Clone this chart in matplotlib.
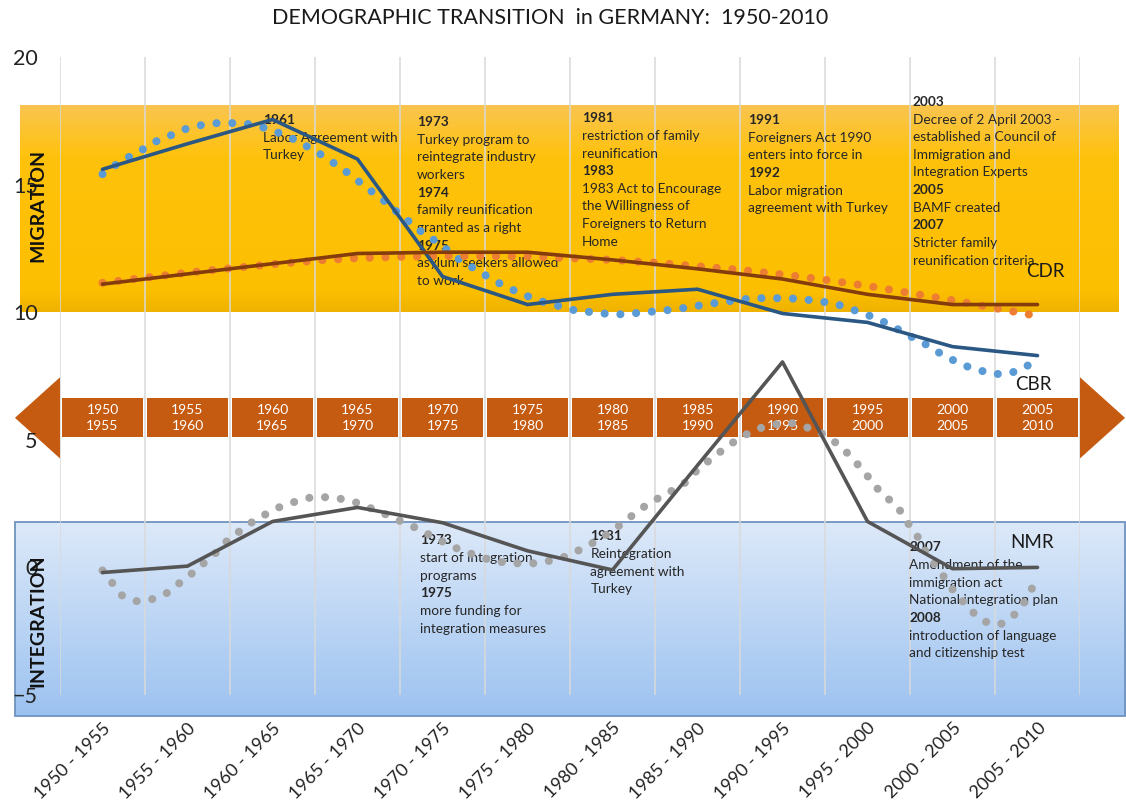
import numpy as np
import matplotlib
matplotlib.use("Agg")
import matplotlib.pyplot as plt
from matplotlib.patches import Rectangle, Polygon
from matplotlib.colors import LinearSegmentedColormap

plt.rcParams['font.family'] = ['Lato', 'DejaVu Sans']

# categories (5-year periods)
periods = ['1950 - 1955', '1955 - 1960', '1960 - 1965', '1965 - 1970',
           '1970 - 1975', '1975 - 1980', '1980 - 1985', '1985 - 1990',
           '1990 - 1995', '1995 - 2000', '2000 - 2005', '2005 - 2010']
band_from = ['1950', '1955', '1960', '1965', '1970', '1975',
             '1980', '1985', '1990', '1995', '2000', '2005']
band_to = ['1955', '1960', '1965', '1970', '1975', '1980',
           '1985', '1990', '1995', '2000', '2005', '2010']

# series
cbr = [15.6, 16.6, 17.55, 16.0, 11.4, 10.3, 10.7, 10.9, 9.95, 9.6, 8.65, 8.3]
cdr = [11.1, 11.5, 11.9, 12.3, 12.35, 12.35, 12.05, 11.7, 11.3, 10.7, 10.3, 10.3]
nmr = [-0.2, 0.05, 1.8, 2.35, 1.75, 0.65, -0.1, 4.0, 8.05, 1.8, -0.05, 0.0]

# dotted trendlines (positions in category units)
cbr_trend_x = [0.0, 0.15, 0.31, 0.48, 0.64, 0.81, 0.98, 1.16, 1.35, 1.54, 1.72, 1.91,
               2.08, 2.25, 2.42, 2.58, 2.74, 2.89, 3.04, 3.19, 3.35, 3.48, 3.63, 3.77,
               3.94, 4.09, 4.24, 4.41, 4.56, 4.71, 4.89, 5.06, 5.23, 5.42, 5.59, 5.78,
               5.97, 6.17, 6.36, 6.55, 6.74, 6.92, 7.10, 7.29, 7.46, 7.65, 7.85, 8.05,
               8.24, 8.42, 8.61, 8.77, 8.95, 9.12, 9.30, 9.45, 9.63, 9.79, 9.96, 10.13,
               10.31, 10.49, 10.68, 10.86, 11.0]
cbr_trend_y = [15.41, 15.76, 16.08, 16.39, 16.71, 16.94, 17.18, 17.33, 17.41, 17.41, 17.37, 17.22,
               17.02, 16.78, 16.47, 16.16, 15.80, 15.45, 15.06, 14.67, 14.27, 13.88, 13.49, 13.10,
               12.75, 12.35, 11.96, 11.65, 11.33, 11.06, 10.78, 10.55, 10.35, 10.20, 10.04, 10.00,
               9.92, 9.92, 10.00, 10.04, 10.12, 10.20, 10.31, 10.39, 10.47, 10.55, 10.55, 10.55,
               10.51, 10.43, 10.35, 10.16, 9.96, 9.73, 9.45, 9.14, 8.86, 8.51, 8.20, 7.92,
               7.73, 7.57, 7.61, 7.84, 8.24]
cdr_trend_x = [0, 0.5, 1, 1.5, 2, 2.5, 3, 3.5, 4, 4.5, 5, 5.5,
               6, 6.5, 7, 7.5, 8, 8.5, 9, 9.5, 10, 10.5, 11]
cdr_trend_y = [11.15, 11.35, 11.55, 11.72, 11.88, 12.02, 12.12, 12.17, 12.2, 12.2, 12.18, 12.12,
               12.05, 11.94, 11.8, 11.66, 11.48, 11.27, 11.03, 10.75, 10.47, 10.16, 9.85]
nmr_trend_x = [0.0, 0.23, 0.41, 0.58, 0.75, 0.90, 1.05, 1.19, 1.34, 1.46, 1.61, 1.77,
               1.94, 2.10, 2.28, 2.46, 2.65, 2.84, 3.02, 3.19, 3.36, 3.54, 3.70, 3.86,
               4.02, 4.19, 4.36, 4.54, 4.71, 4.90, 5.09, 5.28, 5.45, 5.63, 5.78, 5.95,
               6.10, 6.25, 6.41, 6.62, 6.83, 6.96, 7.11, 7.26, 7.42, 7.58, 7.75, 7.93,
               8.12, 8.30, 8.48, 8.63, 8.78, 8.91, 9.03, 9.15, 9.25, 9.36, 9.46, 9.57,
               9.66, 9.77, 9.88, 9.98, 10.10, 10.23, 10.37, 10.56, 10.71, 10.83, 10.93, 11.0]
nmr_trend_y = [-0.12, -1.10, -1.33, -1.25, -1.02, -0.63, -0.24, 0.16, 0.59, 1.02, 1.41, 1.80,
               2.12, 2.39, 2.59, 2.75, 2.75, 2.67, 2.51, 2.27, 2.04, 1.76, 1.53, 1.25,
               0.98, 0.71, 0.51, 0.31, 0.20, 0.16, 0.16, 0.27, 0.43, 0.71, 0.98, 1.33,
               1.69, 2.08, 2.47, 2.86, 3.24, 3.70, 4.12, 4.51, 4.90, 5.22, 5.47, 5.61,
               5.65, 5.47, 5.22, 4.88, 4.43, 3.94, 3.46, 2.95, 2.67, 2.35, 1.80, 1.33,
               0.75, 0.20, -0.27, -0.78, -1.25, -1.73, -2.12, -2.24, -1.92, -1.45, -0.86, -0.31]

migration_notes = [
    (1.89, 17.53, ['1961', 'Labor Agreement with', 'Turkey']),
    (3.70, 17.45, ['1973', 'Turkey program to', 'reintegrate industry', 'workers',
                   '1974', 'family reunification', 'granted as a right',
                   '1975', 'asylum seekers allowed', 'to work']),
    (5.64, 17.60, ['1981', 'restriction of family', 'reunification', '1983',
                   '1983 Act to Encourage', 'the Willingness of',
                   'Foreigners to Return', 'Home']),
    (7.59, 17.53, ['1991', 'Foreigners Act 1990', 'enters into force in', '1992',
                   'Labor migration', 'agreement with Turkey']),
    (9.53, 18.24, ['2003', 'Decree of 2 April 2003 -', 'established a Council of',
                   'Immigration and', 'Integration Experts', '2005', 'BAMF created',
                   '2007', 'Stricter family', 'reunification criteria']),
]
integration_notes = [
    (3.74, 1.06, ['1973', 'start of integration', 'programs', '1975',
                  'more funding for', 'integration measures']),
    (5.74, 1.22, ['1981', 'Reintegration', 'agreement with', 'Turkey']),
    (9.49, 0.78, ['2007', 'Amendment of the', 'immigration act',
                  'National integration plan', '2008', 'introduction of language',
                  'and citizenship test']),
]

fig = plt.figure(figsize=(11.26, 8.01), dpi=100)
ax = fig.add_axes([60 / 1126, 1 - 695 / 801, 1020 / 1126, 638 / 801])
ax.set_facecolor('none')
x = np.arange(len(periods))


def gradient_box(x0, x1, y0, y1, colors, z):
    cmap = LinearSegmentedColormap.from_list('box', colors)
    grad = np.linspace(0, 1, 256).reshape(-1, 1)
    ax.imshow(grad, extent=(x0, x1, y0, y1), origin='lower', cmap=cmap,
              aspect='auto', zorder=z, clip_on=False, interpolation='bilinear')


# MIGRATION box (gold) and INTEGRATION box (blue)
gradient_box(-0.97, 11.95, 10.0, 18.1,
             [(0, '#efb200'), (0.1, '#fcbf00'), (0.75, '#ffc20c'), (1, '#f9c550')], 0.3)
gradient_box(-1.03, 12.03, -5.84, 1.76, ['#9cc2f0', '#dde9f9'], 0.3)
ax.add_patch(Rectangle((-1.03, -5.84), 13.06, 7.6, fill=False, ec='#6f93bf',
                       lw=1.3, zorder=0.4, clip_on=False))

# timeline band with arrows
band_color = '#c55a11'
for i in x:
    ax.add_patch(Rectangle((i - 0.5 + 0.02, 5.1), 0.96, 1.53, fc=band_color,
                           ec='none', zorder=2.0, clip_on=False))
    ax.text(i, 5.86, band_from[i] + '\n' + band_to[i], ha='center', va='center',
            color='white', fontsize=10, linespacing=1.4, zorder=2.1)
ax.add_patch(Polygon([(-0.5, 7.45), (-1.03, 5.86), (-0.5, 4.27)], closed=True,
                     fc=band_color, ec='none', zorder=2.0, clip_on=False))
ax.add_patch(Polygon([(11.5, 7.45), (12.03, 5.86), (11.5, 4.27)], closed=True,
                     fc=band_color, ec='none', zorder=2.0, clip_on=False))

# annotation texts
for nx, ny, lines in migration_notes + integration_notes:
    for k, line in enumerate(lines):
        ax.annotate(line, (nx, ny), xytext=(0, -12.7 * k), textcoords='offset points',
                    fontsize=9.8, fontweight='bold' if line.isdigit() else 'normal',
                    ha='left', va='center', color='#262626', zorder=2.6,
                    annotation_clip=False)

# trendlines (dotted) and series (solid)
dot = dict(lw=5.8, linestyle=(0, (0.01, 1.95)), dash_capstyle='round', zorder=3)
ax.plot(cbr_trend_x, cbr_trend_y, color='#5b9bd5', **dot)
ax.plot(cdr_trend_x, cdr_trend_y, color='#ed7d31', **dot)
ax.plot(nmr_trend_x, nmr_trend_y, color='#a5a5a5', **dot)

solid = dict(lw=2.6, solid_joinstyle='round', solid_capstyle='round', zorder=4)
ax.plot(x, cbr, color='#2a5783', **solid)
ax.plot(x, cdr, color='#843c0c', **solid)
ax.plot(x, nmr, color='#555555', **solid)

ax.text(11.09, 11.6, 'CDR', fontsize=13.5, ha='center', va='center', color='#1a1a1a', zorder=5)
ax.text(10.95, 7.18, 'CBR', fontsize=13.5, ha='center', va='center', color='#1a1a1a', zorder=5)
ax.text(10.94, 0.98, 'NMR', fontsize=13.5, ha='center', va='center', color='#1a1a1a', zorder=5)

ax.text(-0.76, 14.2, 'MIGRATION', rotation=90, fontsize=14, fontweight='bold',
        ha='center', va='center', color='#111111', zorder=5)
ax.text(-0.76, -2.08, 'INTEGRATION', rotation=90, fontsize=14, fontweight='bold',
        ha='center', va='center', color='#111111', zorder=5)

# axes
ax.set_xlim(-0.5, 11.5)
ax.set_ylim(-5, 20)
ax.set_yticks([-5, 0, 5, 10, 15, 20])
ax.set_xticks(x)
ax.set_xticklabels(periods, rotation=45, ha='right', va='top', rotation_mode='anchor')
ax.set_xticks(np.arange(-0.5, 12, 1), minor=True)
ax.tick_params(axis='both', which='both', length=0, colors='#222222')
ax.tick_params(axis='y', labelsize=15.5, pad=16)
ax.tick_params(axis='x', labelsize=13, pad=18)
ax.set_axisbelow(False)
ax.grid(axis='x', which='minor', color='#d9d9d9', lw=1.1)
ax.grid(axis='x', which='major', visible=False)
for s in ax.spines.values():
    s.set_visible(False)

fig.text(550 / 1126, 1 - 18 / 801, 'DEMOGRAPHIC TRANSITION  in GERMANY:  1950-2010',
         ha='center', va='center', fontsize=15.5, color='#1a1a1a')

fig.savefig('out.png', dpi=100)
